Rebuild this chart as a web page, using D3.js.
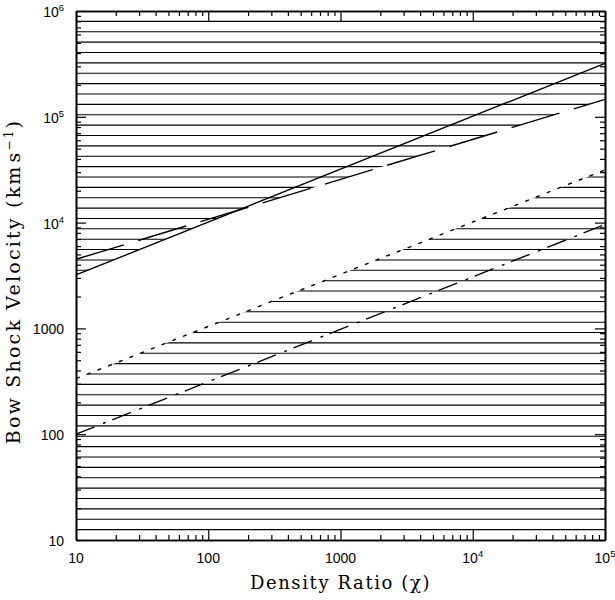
<!DOCTYPE html>
<html>
<head>
<meta charset="utf-8">
<script src="https://cdnjs.cloudflare.com/ajax/libs/d3/7.8.5/d3.min.js"></script>
<style>
  body { margin: 0; background: #fff; }
  .tickLabel { font-family: 'Liberation Sans', Arial, sans-serif; font-size: 14px; fill: #000; }
  .axisTitle { font-family: 'DejaVu Serif', 'Liberation Serif', serif; fill: #000; }
</style>
</head>
<body>
<div id="chart"></div>
<script>
//////////////////////////////// Data ////////////////////////////////
var xDomain = [10, 1e5],
    yDomain = [10, 1e6];

var xTicks = [10, 100, 1000, 1e4, 1e5],
    xTickLabels = [["10"], ["100"], ["1000"], ["10", "4"], ["10", "5"]];
var yTicks = [10, 100, 1000, 1e4, 1e5, 1e6],
    yTickLabels = [["10"], ["100"], ["1000"], ["10", "4"], ["10", "5"], ["10", "6"]];

//end points of each limit line (chi, velocity)
var solidLine   = [[10, 3200], [1e5, 3.2e5]];
var dashedLine  = [[10, 4500], [1e5, 1.46e5]];
var dottedLine  = [[10, 335],  [1e5, 3.15e4]];
var dashDotLine = [[10, 100],  [1e5, 9600]];

//number of hatch lines across the plot
var nHatch = 50;

//////////////////////////////// Setup ////////////////////////////////
var margin = {top: 11, right: 10, bottom: 60, left: 76};
var width = 529, height = 529;

var svg = d3.select("#chart").append("svg")
    .attr("width", 615)
    .attr("height", 600);

var g = svg.append("g")
    .attr("transform", "translate(" + margin.left + "," + margin.top + ")");

var x = d3.scaleLog().domain(xDomain).range([0, width]);
var y = d3.scaleLog().domain(yDomain).range([height, 0]);

var line = d3.line()
    .x(function(d) { return x(d[0]); })
    .y(function(d) { return y(d[1]); });

//region above a line (to the top of the plot)
function above(pts) {
  var p = pts.map(function(d) { return [x(d[0]), y(d[1])]; });
  return "M" + p[0] + "L" + p[1] + "L" + [x(xDomain[1]), y(yDomain[1])] + "L" + [x(xDomain[0]), y(yDomain[1])] + "Z";
}
//region below a line (to the bottom of the plot)
function below(pts) {
  var p = pts.map(function(d) { return [x(d[0]), y(d[1])]; });
  return "M" + p[0] + "L" + p[1] + "L" + [x(xDomain[1]), y(yDomain[0])] + "L" + [x(xDomain[0]), y(yDomain[0])] + "Z";
}

var defs = svg.append("defs");
//union of the two "above" regions = above the lower of solid/dashed
var upperClip = defs.append("clipPath").attr("id", "upperClip");
upperClip.append("path").attr("d", above(solidLine));
upperClip.append("path").attr("d", above(dashedLine));
var lowerClip = defs.append("clipPath").attr("id", "lowerClip");
lowerClip.append("path").attr("d", below(dottedLine));

//////////////////////////////// Hatching ////////////////////////////////
var logMin = Math.log10(yDomain[0]), logMax = Math.log10(yDomain[1]);
var hatchLevels = d3.range(1, nHatch + 1).map(function(k) {
  return Math.pow(10, logMin + (logMax - logMin) * k / (nHatch + 1));
});

["upperClip", "lowerClip"].forEach(function(id) {
  g.append("g")
    .attr("clip-path", "url(#" + id + ")")
    .selectAll("line")
    .data(hatchLevels)
    .enter().append("line")
    .attr("x1", 0)
    .attr("x2", width)
    .attr("y1", function(d) { return y(d); })
    .attr("y2", function(d) { return y(d); })
    .style("stroke", "#000")
    .style("stroke-width", 1.1);
});

//////////////////////////////// Limit lines ////////////////////////////////
var styles = [
  {data: solidLine, dash: null},
  {data: dashedLine, dash: "50,15"},
  {data: dottedLine, dash: "4,7.5"},
  {data: dashDotLine, dash: "20,9,3,7"}
];
styles.forEach(function(s) {
  g.append("path")
    .datum(s.data)
    .attr("d", line)
    .style("fill", "none")
    .style("stroke", "#000")
    .style("stroke-width", 1.4)
    .style("stroke-dasharray", s.dash);
});

//////////////////////////////// Axes ////////////////////////////////
function minorTicks(domain) {
  var out = [];
  for (var p = Math.log10(domain[0]); p < Math.log10(domain[1]); p++) {
    for (var m = 2; m < 10; m++) out.push(m * Math.pow(10, p));
  }
  return out;
}

//ticks point inward on all four sides
function addAxis(axisFn, scale, majors, minors, transform) {
  var ag = g.append("g").attr("transform", transform);
  ag.call(axisFn(scale).tickValues(majors).tickSize(-10).tickFormat("").tickSizeOuter(0));
  ag.append("g").call(axisFn(scale).tickValues(minors).tickSize(-5).tickFormat("").tickSizeOuter(0));
  ag.selectAll("path").style("stroke", "#000").style("stroke-width", 1.6);
  ag.selectAll("line").style("stroke", "#000").style("stroke-width", 1.2);
}

var xMinor = minorTicks(xDomain), yMinor = minorTicks(yDomain);
addAxis(d3.axisBottom, x, xTicks, xMinor, "translate(0," + height + ")");
addAxis(d3.axisTop, x, xTicks, xMinor, "translate(0,0)");
addAxis(d3.axisLeft, y, yTicks, yMinor, "translate(0,0)");
addAxis(d3.axisRight, y, yTicks, yMinor, "translate(" + width + ",0)");

//tick labels
function writeLabel(sel, parts) {
  sel.append("tspan").text(parts[0]);
  if (parts[1]) {
    sel.append("tspan")
      .attr("dy", -6)
      .style("font-size", "9.5px")
      .text(parts[1]);
  }
}

xTicks.forEach(function(t, i) {
  var txt = g.append("text")
    .attr("class", "tickLabel")
    .attr("x", x(t))
    .attr("y", height + 23)
    .style("text-anchor", "middle");
  writeLabel(txt, xTickLabels[i]);
});

yTicks.forEach(function(t, i) {
  var txt = g.append("text")
    .attr("class", "tickLabel")
    .attr("x", -12)
    .attr("y", y(t) + 6)
    .style("text-anchor", "end");
  writeLabel(txt, yTickLabels[i]);
});

//axis titles
g.append("text")
  .attr("class", "axisTitle")
  .attr("x", width / 2)
  .attr("y", height + 49)
  .style("text-anchor", "middle")
  .style("font-size", "18px")
  .style("letter-spacing", "1.6px")
  .text("Density Ratio (\u03C7)");

var yt = g.append("text")
  .attr("class", "axisTitle")
  .attr("transform", "translate(" + (-56) + "," + (height / 2 + 6) + ") rotate(-90)")
  .style("text-anchor", "middle")
  .style("font-size", "19px")
  .style("letter-spacing", "2.2px");
yt.append("tspan").text("Bow Shock Velocity (km");
yt.append("tspan").attr("dx", 2).text("s");
yt.append("tspan").attr("dy", -7).style("font-size", "12px").text("\u22121");
yt.append("tspan").attr("dy", 7).text(")");
</script>
</body>
</html>
